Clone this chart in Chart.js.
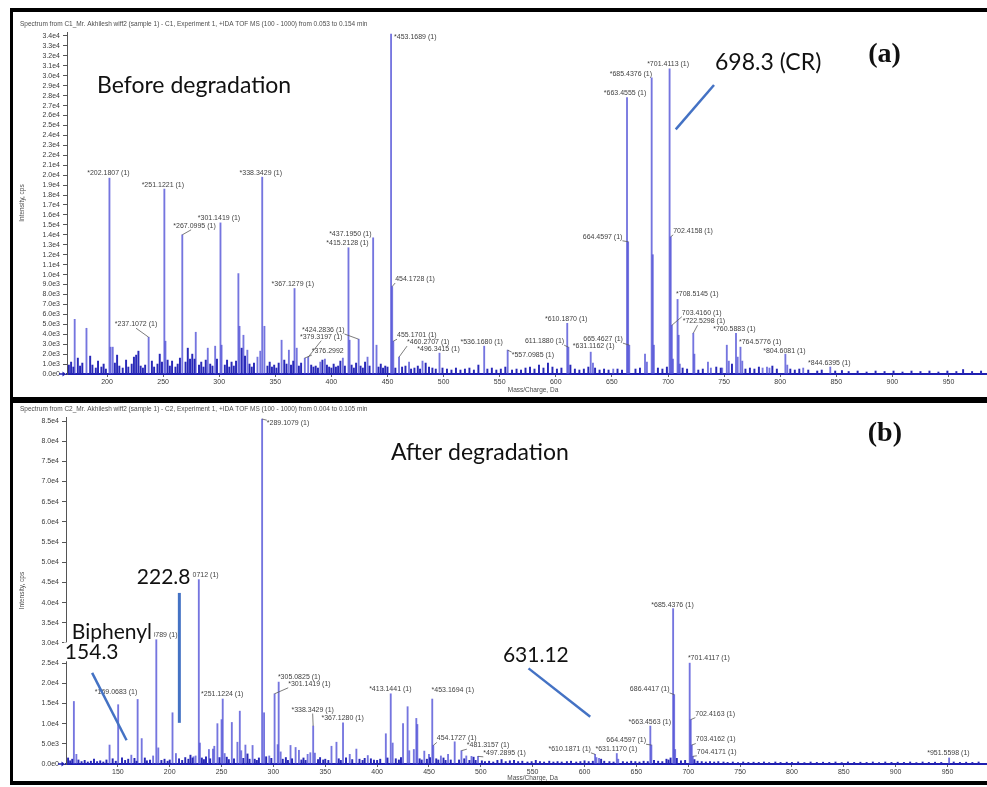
<!DOCTYPE html>
<html>
<head>
<meta charset="utf-8">
<script src="https://cdn.jsdelivr.net/npm/chart.js@4.4.1/dist/chart.umd.min.js"></script>
<style>
  html, body { margin: 0; padding: 0; background: #fff; }
  body { width: 987px; height: 787px; position: relative; overflow: hidden; }
  .frame { position: absolute; left: 10px; width: 1000px; border: 0 solid #000; border-left-width: 3px; }
  #frameA { top: 8px; height: 385px; border-top-width: 4px; border-bottom-width: 3px; }
  #frameB { top: 400px; height: 378px; border-top-width: 3px; border-bottom-width: 4px; }
  canvas { position: absolute; left: 0; top: 0; }
</style>
</head>
<body>
<div class="frame" id="frameA"><canvas id="specA" width="974" height="385"></canvas></div>
<div class="frame" id="frameB"><canvas id="specB" width="974" height="378"></canvas></div>
<script>
// ---------- (a) before degradation ----------
const topHeader = "Spectrum from C1_Mr. Akhilesh wiff2 (sample 1) - C1, Experiment 1, +IDA TOF MS (100 - 1000) from 0.053 to 0.154 min";
const topMz = [171.2, 181.7, 202.18, 203.2, 205.1, 237.11, 251.12, 252.1, 267.1, 279.1, 289.8, 296.4, 301.14, 302.1, 317.1, 318.1, 321.6, 325.1, 334.1, 336.6,
  338.34, 340.3, 355.6, 362.1, 367.13, 369.1, 376.3, 379.32, 390.1, 394.2, 410.2, 415.21, 416.2, 424.28, 432.2, 437.2, 440.2, 453.17, 454.17, 455.17,
  460.27, 469.2, 481.2, 496.34, 536.17, 557.1, 610.19, 611.19, 631.12, 633.1, 651.2, 663.46, 664.46, 665.46, 679.5, 681.2, 685.44, 686.44, 687.4, 701.41,
  702.42, 703.42, 704.4, 708.51, 709.5, 710.5, 722.53, 723.5, 735.6, 738.2, 748.3, 752.4, 754.2, 760.59, 762.1, 764.58, 766.2, 784.3, 788.2, 790.4,
  804.61, 806.3, 820.5, 844.64];
const topInt = [5500, 4600, 19700, 2700, 2700, 3700, 18600, 3300, 14000, 4200, 2600, 2800, 15200, 2900, 10100, 4800, 3900, 2400, 1700, 2300,
  19800, 4800, 3400, 2400, 8600, 2600, 1600, 1700, 1200, 1500, 1600, 12700, 3400, 3500, 1700, 13700, 2900, 34200, 8800, 3300,
  1700, 1200, 1300, 2100, 2800, 2400, 5100, 2700, 2200, 1100, 500, 27800, 13300, 2900, 2000, 1200, 29800, 12000, 2900, 30700,
  13800, 4900, 1500, 7500, 3900, 1000, 4100, 2000, 1200, 600, 600, 2900, 1300, 4100, 1700, 2700, 1300, 600, 700, 600,
  2000, 900, 600, 700];
const topNoise = [[166,900],[168,1200],[170,700],[174,1600],[176,800],[178,1100],[185,1800],[187,900],[190,600],[192,1300],[195,700],[197,1000],[199,500],
  [207,1100],[209,1900],[211,800],[214,600],[217,1400],[219,700],[222,1000],[224,1700],[226,1900],[228,2300],[230,800],[232,600],[234,900],[240,1300],
  [242,700],[245,1000],[247,2000],[249,1200],[254,1400],[256,800],[258,1300],[261,700],[263,1000],[265,1600],[270,1200],[272,2600],[274,1500],[276,2000],
  [278,1500],[282,900],[284,1200],[286,700],[288,1400],[292,1000],[294,800],[298,1500],[305,900],[307,1400],[309,700],[311,1200],[313,800],[315,1300],
  [320,2600],[323,1800],[327,1000],[329,700],[331,1100],[343,800],[345,1200],[347,700],[349,900],[351,600],[353,1100],[358,1400],[360,1000],[364,900],
  [366,1300],[371,800],[373,1100],[382,900],[384,700],[386,800],[388,600],[392,1400],[396,900],[398,700],[400,600],[402,1000],[404,700],[406,800],
  [408,1300],[412,800],[418,900],[420,600],[422,1100],[426,800],[428,600],[430,1200],[434,800],[442,700],[444,1000],[446,600],[448,800],[450,700],
  [457,600],[463,700],[466,800],[471,500],[474,600],[477,800],[479,500],[484,1100],[487,700],[490,600],[493,500],[499,600],[503,500],[507,400],
  [511,600],[515,400],[519,500],[523,600],[527,400],[531,900],[539,500],[543,600],[547,400],[551,500],[555,700],[561,400],[565,500],[569,400],
  [573,600],[577,700],[581,500],[585,900],[589,600],[593,1100],[597,700],[601,500],[605,600],[613,900],[617,500],[621,400],[625,500],[629,700],
  [635,600],[639,400],[643,500],[647,400],[655,500],[659,400],[671,500],[675,600],[691,600],[695,500],[699,700],[713,600],[717,500],[727,400],
  [731,500],[743,700],[747,600],[757,1000],[769,500],[773,600],[777,500],[781,700],[793,800],[797,500],[809,500],[813,400],[817,500],[825,400],
  [833,300],[837,400],[849,300],[855,350],[861,250],[869,300],[877,200],[885,300],[893,250],[901,300],[909,200],[917,300],[925,250],[933,300],
  [941,200],[949,300],[957,250],[963,450],[971,250],[979,300]];
const topLabelMz = [202.18, 251.12, 267.1, 301.14, 338.34, 367.13, 237.11, 415.21, 437.2, 453.17, 454.17, 455.17, 460.27, 496.34, 424.28, 379.32, 376.3,
  536.17, 557.1, 611.19, 610.19, 631.12, 665.46, 664.46, 663.46, 685.44, 701.41, 702.42, 708.51, 703.42, 722.53, 760.59, 764.58, 804.61, 844.64];
const topLabelText = ["*202.1807 (1)", "*251.1221 (1)", "*267.0995 (1)", "*301.1419 (1)", "*338.3429 (1)", "*367.1279 (1)", "*237.1072 (1)",
  "*415.2128 (1)", "*437.1950 (1)", "*453.1689 (1)", "454.1728 (1)", "455.1701 (1)", "*460.2707 (1)", "*496.3415 (1)", "*424.2836 (1)",
  "*379.3197 (1)", "*376.2992", "*536.1680 (1)", "*557.0985 (1)", "611.1880 (1)", "*610.1870 (1)", "*631.1162 (1)", "665.4627 (1)",
  "664.4597 (1)", "*663.4555 (1)", "*685.4376 (1)", "*701.4113 (1)", "702.4158 (1)", "*708.5145 (1)", "703.4160 (1)", "*722.5298 (1)",
  "*760.5883 (1)", "*764.5776 (1)", "*804.6081 (1)", "*844.6395 (1)"];
const topXTicks = [200, 250, 300, 350, 400, 450, 500, 550, 600, 650, 700, 750, 800, 850, 900, 950];
const topYTicks = [0, 1000, 2000, 3000, 4000, 5000, 6000, 7000, 8000, 9000, 10000, 11000, 12000, 13000, 14000, 15000, 16000, 17000,
  18000, 19000, 20000, 21000, 22000, 23000, 24000, 25000, 26000, 27000, 28000, 29000, 30000, 31000, 32000, 33000, 34000];
const topYLabels = ["0.0e0", "1.0e3", "2.0e3", "3.0e3", "4.0e3", "5.0e3", "6.0e3", "7.0e3", "8.0e3", "9.0e3", "1.0e4", "1.1e4", "1.2e4",
  "1.3e4", "1.4e4", "1.5e4", "1.6e4", "1.7e4", "1.8e4", "1.9e4", "2.0e4", "2.1e4", "2.2e4", "2.3e4", "2.4e4", "2.5e4", "2.6e4", "2.7e4",
  "2.8e4", "2.9e4", "3.0e4", "3.1e4", "3.2e4", "3.3e4", "3.4e4"];

// ---------- (b) after degradation ----------
const botHeader = "Spectrum from C2_Mr. Akhilesh wiff2 (sample 1) - C2, Experiment 1, +IDA TOF MS (100 - 1000) from 0.004 to 0.105 min";
const botMz = [107.6, 110, 142, 150.3, 163, 169.07, 173, 184, 187.08, 189, 202.7, 206, 223, 225, 228.07, 229.1, 237.8, 241.7, 243, 246,
  250, 251.12, 253, 259.9, 265.3, 267.6, 269, 273, 279.9, 289.11, 291, 296, 301.14, 304.1, 305.08, 307, 316.5, 321.4, 324.6, 333,
  335.6, 338.34, 340, 356, 360.8, 367.13, 373.6, 380, 391, 408.4, 413.14, 415, 425, 429.4, 431, 435.4, 437.8, 438.8, 445.5, 450,
  453.17, 454.17, 461.5, 468.4, 474.8, 481.32, 486, 491, 497.29, 610.19, 611.5, 614, 631.12, 632.5, 663.46, 664.46, 685.44, 686.44, 687.4, 701.41,
  702.42, 703.42, 704.42, 951.56];
const botInt = [15500, 2400, 4700, 14700, 2200, 16000, 6300, 2000, 30800, 4000, 12700, 2600, 1800, 2000, 45700, 5200, 3600, 3700, 4400, 10000,
  11000, 16100, 2600, 10300, 5400, 13100, 3300, 4700, 4600, 85500, 12700, 2000, 17400, 4800, 20300, 3000, 4600, 4100, 3400, 2400,
  2800, 9400, 2700, 4400, 5400, 10200, 2400, 3700, 2100, 7500, 17400, 5200, 10000, 14200, 3300, 3600, 11300, 9800, 3200, 2400,
  16100, 4600, 2000, 2400, 5500, 3300, 2000, 1900, 1900, 2400, 1600, 1400, 2600, 1200, 9400, 4700, 38500, 17200, 3600, 25000,
  11000, 4700, 1900, 1500];
const botNoise = [[102,1500],[104,800],[106,1200],[112,1000],[115,600],[118,900],[121,500],[124,700],[127,1200],[130,600],[133,800],[136,500],
  [139,1000],[145,1300],[148,700],[154,1500],[157,900],[160,1200],[166,1400],[168,700],[176,1500],[178,800],[181,1000],[192,900],[195,1200],
  [198,700],[200,1000],[209,1300],[212,900],[215,1600],[218,1200],[220,2200],[222,1500],[231,1500],[233,1100],[235,1800],[239,1300],[248,1600],
  [255,1700],[257,1100],[262,1300],[271,1400],[275,2500],[277,1200],[282,1200],[284,900],[286,1500],[293,1800],[298,1400],[309,1200],[312,1600],
  [314,900],[318,1300],[327,1000],[329,1500],[331,900],[343,1100],[345,1600],[348,1000],[350,1200],[353,900],[363,1300],[365,900],[370,1500],
  [376,1100],[383,1200],[386,900],[388,1400],[394,1300],[397,1000],[400,900],[403,1200],[410,1500],[418,1300],[421,1000],[423,1600],[441,1300],
  [443,1000],[448,1200],[451,1600],[457,1300],[459,1000],[464,1500],[466,900],[471,1000],[479,1000],[484,1300],[489,900],[493,1700],[495,900],
  [501,800],[504,600],[508,700],[512,500],[516,900],[520,1100],[524,600],[528,800],[532,900],[536,600],[540,700],[545,500],[549,600],[553,900],
  [557,600],[561,500],[566,700],[570,500],[574,600],[578,500],[583,600],[587,700],[592,500],[596,600],[600,800],[604,600],[608,700],[616,1200],
  [619,700],[624,600],[628,500],[637,600],[641,500],[645,700],[649,600],[653,500],[657,700],[661,600],[667,900],[671,700],[675,600],[679,1200],
  [681,1000],[683,1500],[689,1400],[693,800],[697,900],[706,1100],[709,700],[713,600],[717,500],[721,600],[725,500],[729,600],[734,500],[738,400],
  [743,500],[748,350],[753,500],[758,400],[763,450],[768,400],[773,500],[778,350],[784,500],[789,400],[795,450],[800,400],[806,500],[812,350],
  [818,500],[824,400],[830,450],[836,400],[842,500],[848,350],[854,500],[860,400],[866,450],[872,400],[878,500],[884,350],[890,500],[896,400],
  [902,450],[908,400],[914,500],[920,350],[926,500],[932,400],[938,450],[944,400],[956,500],[962,400],[968,450],[974,400],[980,500]];
const botLabelMz = [169.07, 187.08, 228.07, 251.12, 289.11, 305.08, 301.14, 338.34, 367.13, 413.14, 453.17, 454.17, 481.32, 497.29, 610.19,
  631.12, 664.46, 663.46, 686.44, 685.44, 701.41, 702.42, 703.42, 704.42, 951.56];
const botLabelText = ["*169.0683 (1)", "*187.0789 (1)", "*228.0712 (1)", "*251.1224 (1)", "*289.1079 (1)", "*305.0825 (1)", "*301.1419 (1)",
  "*338.3429 (1)", "*367.1280 (1)", "*413.1441 (1)", "*453.1694 (1)", "454.1727 (1)", "*481.3157 (1)", "*497.2895 (1)", "*610.1871 (1)",
  "*631.1170 (1)", "664.4597 (1)", "*663.4563 (1)", "686.4417 (1)", "*685.4376 (1)", "*701.4117 (1)", "702.4163 (1)", "703.4162 (1)",
  "704.4171 (1)", "*951.5598 (1)"];
const botXTicks = [150, 200, 250, 300, 350, 400, 450, 500, 550, 600, 650, 700, 750, 800, 850, 900, 950];
const botYTicks = [0, 5000, 10000, 15000, 20000, 25000, 30000, 35000, 40000, 45000, 50000, 55000, 60000, 65000, 70000, 75000, 80000, 85000];
const botYLabels = ["0.0e0", "5.0e3", "1.0e4", "1.5e4", "2.0e4", "2.5e4", "3.0e4", "3.5e4", "4.0e4", "4.5e4", "5.0e4", "5.5e4", "6.0e4",
  "6.5e4", "7.0e4", "7.5e4", "8.0e4", "8.5e4"];

// ---------- placement of peak labels: [align, dx, dy, leader fraction or null] ----------
const topPlace = [['c',-1,-5,null],['c',-1.5,-4.5,null],['l',-9,-9,0.42],['c',-1.5,-5,null],['c',-1.4,-4.5,null],['c',-1.7,-4.5,null],
  ['c',-12.6,-13,0.5],['c',-1,-4.5,null],['l',-44,-3.5,null],['l',3,3,null],['l',3,-7.5,0],['l',3.7,-6,0],['l',8,-15,0],['c',-1,-4.5,null],
  ['l',-56.6,-9.2,1],['l',-8.2,-20.4,0.5],['l',7,-7,0],['c',-2.5,-4.5,null],['l',4,5,0],['l',-43.4,-6,1],['c',-1,-4,null],['c',3,-6,null],
  ['l',-46,-6,1],['l',-45.4,-5,1],['c',-2,-5,null],['l',-42,-3.5,null],['c',-1.5,-4.8,null],['l',2.5,-6,0],['l',-1.5,-5.4,null],['l',10,-12.6,0],
  ['l',-10.6,-12,0.35],['c',-1.6,-4.2,null],['l',-1.5,-5.5,null],['c',-1,-3.5,null],['c',-1,-4,null]];
const botPlace = [['l',-42.8,-7.6,null],['c',0,-5,null],['c',-1.4,-4.5,null],['c',-0.5,-4.5,null],['l',4.7,4.2,0],['l',-0.8,-5.2,null],
  ['l',13.6,-10,0],['c',-0.5,-16.5,0.5],['c',-0.4,-5,null],['c',-0.4,-5,null],['l',-0.7,-8.8,null],['l',3.5,-7,0],['l',5.4,-5.5,0],
  ['l',5.3,-3.5,0],['l',-46.6,-5.5,1],['c',-0.4,-4,null],['l',-45,-4.8,1],['c',-0.5,-4,null],['l',-44.3,-5.7,1],['c',-0.6,-4,null],
  ['l',-1.8,-5.2,null],['l',4.6,-6,0],['l',4,-5.5,0],['l',4,-4.5,0],['c',-0.7,-4.4,null]];

// hand-drawn callouts, anchored in data units
const topNotes = [
  { text: 'Before degradation', mz: 191.1, v: 29000, font: '23px Lato' },
  { text: '698.3 (CR)', mz: 741.9, v: 31300, font: '23px Lato' },
  { line: [741, 29070, 706.9, 24600], w: 2.5 },
  { text: '(a)', mz: 893, v: 32100, font: 'bold 28px "Liberation Serif"', center: true }
];
const botNotes = [
  { text: 'After degradation', mz: 413.3, v: 77100, font: '23px Lato' },
  { text: '(b)', mz: 889.6, v: 81800, font: 'bold 28px "Liberation Serif"', center: true },
  { text: '222.8', mz: 168.3, v: 46300, font: '21px Lato' },
  { line: [209.3, 42400, 209.3, 10200], w: 3 },
  { text: 'Biphenyl', mz: 105.6, v: 32700, font: '21px Lato' },
  { text: '154.3', mz: 98.9, v: 27800, font: '21px Lato' },
  { line: [125.2, 22600, 158.4, 5900], w: 2.5 },
  { text: '631.12', mz: 521.3, v: 27000, font: '21px Lato' },
  { line: [546, 23700, 605.5, 11700], w: 2.5 }
];

const small = '"Liberation Sans", Arial, sans-serif';
Chart.defaults.font.family = small;

function overlay(o) {
  return {
    id: 'overlay',
    afterDraw(chart) {
      const { ctx, chartArea: a, scales: { x, y } } = chart;
      ctx.save();
      ctx.textBaseline = 'middle';
      ctx.fillStyle = '#4d4d4d';
      ctx.font = '6.5px ' + small;
      ctx.textAlign = 'left';
      ctx.fillText(o.header, 7, o.headerY);
      ctx.textAlign = 'center';
      ctx.fillText('Mass/Charge, Da', (a.left + a.right) / 2 + 6, a.bottom + o.xTitleGap);
      ctx.save();
      ctx.translate(9, (a.top + a.bottom) / 2);
      ctx.rotate(-Math.PI / 2);
      ctx.fillText('Intensity, cps', 0, 0);
      ctx.restore();

      // start marker on the baseline
      const y0 = y.getPixelForValue(0);
      ctx.strokeStyle = '#1f1fb0';
      ctx.fillStyle = '#1f1fb0';
      ctx.lineWidth = 1.5;
      ctx.beginPath(); ctx.moveTo(a.left - 8, y0); ctx.lineTo(a.left - 3, y0); ctx.stroke();
      ctx.beginPath(); ctx.moveTo(a.left - 1, y0); ctx.lineTo(a.left - 4.5, y0 - 2.5); ctx.lineTo(a.left - 4.5, y0 + 2.5); ctx.closePath(); ctx.fill();

      // peak labels
      ctx.font = '7px ' + small;
      ctx.textAlign = 'left';
      o.labelMz.forEach((m, i) => {
        let j = 0;
        o.mz.forEach((v, k) => { if (Math.abs(v - m) < Math.abs(o.mz[j] - m)) j = k; });
        const px = x.getPixelForValue(o.mz[j]);
        const py = y.getPixelForValue(o.val[j]);
        const [al, dx, dy, lf] = o.place[i];
        const w = ctx.measureText(o.labelText[i]).width;
        const left = al === 'c' ? px + dx - w / 2 : px + dx;
        const cy = py + dy;
        ctx.fillStyle = '#3f3f3f';
        ctx.fillText(o.labelText[i], left, cy);
        if (lf !== null) {
          ctx.strokeStyle = '#5a5a5a';
          ctx.lineWidth = 0.8;
          ctx.beginPath();
          ctx.moveTo(px, py);
          ctx.lineTo(left + lf * w, cy < py ? cy + 4 : cy - 3);
          ctx.stroke();
        }
      });

      // callouts
      o.notes.forEach(n => {
        if (n.line) {
          ctx.strokeStyle = '#4472c4';
          ctx.lineWidth = n.w;
          ctx.beginPath();
          ctx.moveTo(x.getPixelForValue(n.line[0]), y.getPixelForValue(n.line[1]));
          ctx.lineTo(x.getPixelForValue(n.line[2]), y.getPixelForValue(n.line[3]));
          ctx.stroke();
          return;
        }
        ctx.font = n.font;
        const w = ctx.measureText(n.text).width;
        const tx = x.getPixelForValue(n.mz);
        const ty = y.getPixelForValue(n.v);
        const left = n.center ? tx - w / 2 : tx;
        const h = parseFloat(n.font.replace('bold ', '')) * 0.9;
        ctx.fillStyle = '#fff';
        ctx.fillRect(left - 1, ty - h / 2, w + 3, h);
        ctx.fillStyle = '#111';
        ctx.textAlign = 'left';
        ctx.fillText(n.text, left, ty);
      });
      ctx.restore();
    }
  };
}

function buildSpectrum(id, o) {
  return new Chart(document.getElementById(id), {
    type: 'bar',
    data: {
      datasets: [
        { data: o.noise.map(p => ({ x: p[0], y: p[1] })), backgroundColor: '#2828b8', barThickness: 1.3, grouped: false },
        { data: o.mz.map((m, i) => ({ x: m, y: o.val[i] })), backgroundColor: 'rgba(78,78,214,0.78)', barThickness: 1.2, grouped: false }
      ]
    },
    options: {
      responsive: false,
      animation: false,
      devicePixelRatio: 1,
      events: [],
      layout: { padding: { top: o.padTop, left: 0, right: 0, bottom: 0 } },
      plugins: { legend: { display: false }, tooltip: { enabled: false } },
      scales: {
        x: {
          type: 'linear', min: o.xMin, max: o.xMax, offset: false,
          afterBuildTicks: s => { s.ticks = o.xTicks.map(v => ({ value: v })); },
          afterFit: s => { s.height = o.xAxisH; },
          ticks: { autoSkip: false, maxRotation: 0, padding: 1, color: '#3a3a3a', font: { size: 7 }, callback: v => String(v) },
          grid: { drawOnChartArea: false, tickLength: 3, color: '#666', offset: false },
          border: { color: '#1f1fb0', width: 2 }
        },
        y: {
          min: 0, max: o.yMax,
          afterBuildTicks: s => { s.ticks = o.yTicks.map(v => ({ value: v })); },
          afterFit: s => { s.width = o.yAxisW; },
          ticks: { autoSkip: false, padding: 3, color: '#3a3a3a', font: { size: 7 }, callback: v => o.yLabels[o.yTicks.indexOf(v)] },
          grid: { drawOnChartArea: false, tickLength: 4, color: '#555' },
          border: { color: '#555', width: 1 }
        }
      }
    },
    plugins: [overlay(o)]
  });
}

buildSpectrum('specA', {
  header: topHeader, headerY: 12, xTitleGap: 16.5,
  mz: topMz, val: topInt, noise: topNoise,
  labelMz: topLabelMz, labelText: topLabelText, place: topPlace, notes: topNotes,
  xMin: 164.35, xMax: 984.3, xTicks: topXTicks,
  yMax: 34400, yTicks: topYTicks, yLabels: topYLabels,
  padTop: 20, xAxisH: 23, yAxisW: 54
});
buildSpectrum('specB', {
  header: botHeader, headerY: 6, xTitleGap: 14,
  mz: botMz, val: botInt, noise: botNoise,
  labelMz: botLabelMz, labelText: botLabelText, place: botPlace, notes: botNotes,
  xMin: 100, xMax: 988.1, xTicks: botXTicks,
  yMax: 86000, yTicks: botYTicks, yLabels: botYLabels,
  padTop: 14, xAxisH: 17, yAxisW: 53
});
</script>
</body>
</html>
